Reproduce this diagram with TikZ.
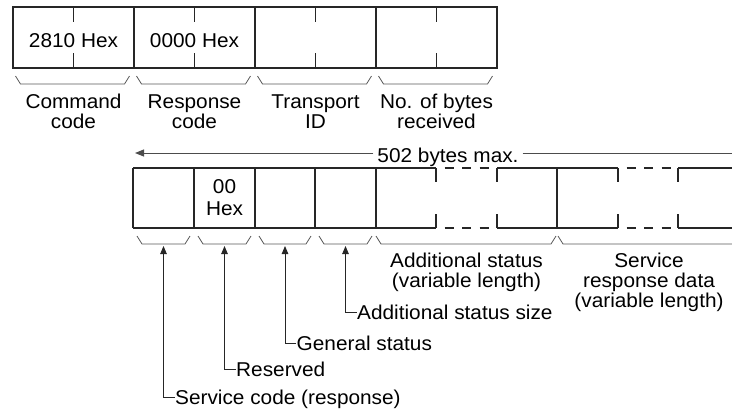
\documentclass[tikz,border=0pt]{standalone}
\usepackage{fontspec}
\setmainfont{Liberation Sans}[FakeStretch=1.04]
\usetikzlibrary{arrows.meta}
\tikzset{
  boxline/.style={draw=black!85, line width=1.1bp},
  dashline/.style={draw=black!85, line width=1.1bp, dash pattern=on 9bp off 8.5bp, dash phase=9bp},
  brace/.style={draw=black!65, line width=0.8bp},
  arr/.style={draw=black!85, line width=1bp, -{Triangle[length=8bp,width=6.5bp]}},
  plain/.style={draw=black!70, line width=1bp},
  lbl/.style={anchor=base, inner sep=0pt, align=center, font=\fontsize{20bp}{20bp}\selectfont},
  callout/.style={anchor=west, inner xsep=0.5bp, inner ysep=0pt, text height=14bp, text depth=0pt, font=\fontsize{20bp}{20bp}\selectfont},
}
\begin{document}
\begin{tikzpicture}[x=1bp,y=-1bp]
\useasboundingbox (0,0) rectangle (732,410);
% ---------- top row ----------
\draw[boxline] (13,7) rectangle (497,68);
\foreach \x in {134,255,376} \draw[boxline] (\x,7) -- (\x,68);
\foreach \x in {73.5,194.5,315.5,436.5} {
  \draw[boxline] (\x,7) -- (\x,22);
  \draw[boxline] (\x,53) -- (\x,68);
}
\node[lbl] (cmdv) at (73.5,47) {2810 Hex};
\node[lbl] (rspv) at (194.5,47) {0000 Hex};
% braces top
\draw[brace] (15.5,76) -- (20.5,84) -- (124.5,84) -- (129.5,76);
\draw[brace] (136.5,76) -- (141.5,84) -- (245.5,84) -- (250.5,76);
\draw[brace] (257.5,76) -- (262.5,84) -- (366.5,84) -- (371.5,76);
\draw[brace] (378.5,76) -- (383.5,84) -- (487.5,84) -- (492.5,76);
% (base anchor of a multi-line node = baseline of its last line)
\node[lbl] (cmd) at (73.5,128) {Command\\code};
\node[lbl] (rsp) at (194.5,128) {Response\\code};
\node[lbl] (tid) at (315.5,128) {Transport\\ID};
\node[lbl] (nob) at (436.5,128) {No. of bytes\\received};
% ---------- 502 bytes arrow ----------
\node[lbl, inner xsep=4bp] (bm) at (448,162) {502 bytes max.};
\coordinate (aL) at (135,153);
\coordinate (aR) at (732,153);
\draw[plain, -{Triangle[length=9bp,width=7bp]}] (bm.west |- aL) -- (aL);
\draw[plain] (bm.east |- aR) -- (aR);
% ---------- second row ----------
\draw[boxline] (133,168) -- (436,168);
\draw[boxline] (133,228) -- (436,228);
\draw[dashline] (436,168) -- (497,168);
\draw[dashline] (436,228) -- (497,228);
\draw[boxline] (497,168) -- (618,168);
\draw[boxline] (497,228) -- (618,228);
\draw[dashline] (618,168) -- (678,168);
\draw[dashline] (618,228) -- (678,228);
\draw[boxline] (678,168) -- (732,168);
\draw[boxline] (678,228) -- (732,228);
\foreach \x in {133,194,255,315,376,557} \draw[boxline] (\x,168) -- (\x,228);
\foreach \x in {436,497,618,678} {
  \draw[boxline] (\x,168) -- (\x,182);
  \draw[boxline] (\x,214) -- (\x,228);
}
\node[lbl, font=\fontsize{20bp}{22bp}\selectfont] (rsv) at (224.5,215) {00\\Hex};
% braces second row
\draw[brace] (137,236) -- (142,244) -- (185,244) -- (190,236);
\draw[brace] (198,236) -- (203,244) -- (246,244) -- (251,236);
\draw[brace] (259,236) -- (264,244) -- (306,244) -- (311,236);
\draw[brace] (319,236) -- (324,244) -- (367,244) -- (372,236);
\draw[brace] (376,236) -- (381,244) -- (551,244) -- (556,236);
\draw[brace] (558,236) -- (563,244) -- (732,244);
\node[lbl] (ast) at (466.5,287) {Additional status\\(variable length)};
\node[lbl] (srd) at (649,307) {Service\\response data\\(variable length)};
% ---------- callouts ----------
\coordinate (t1) at (163.5,246);
\coordinate (t2) at (224.5,246);
\coordinate (t3) at (285,246);
\coordinate (t4) at (345.5,246);
\node[callout] (sz) at (356.5,312) {Additional status size};
\node[callout] (gs) at (296,343) {General status};
\node[callout] (rs) at (235.5,369) {Reserved};
\node[callout] (sc) at (174.5,397) {Service code (response)};
\draw[arr] (sz.west) -| (t4);
\draw[arr] (gs.west) -| (t3);
\draw[arr] (rs.west) -| (t2);
\draw[arr] (sc.west) -| (t1);
\end{tikzpicture}
\end{document}
